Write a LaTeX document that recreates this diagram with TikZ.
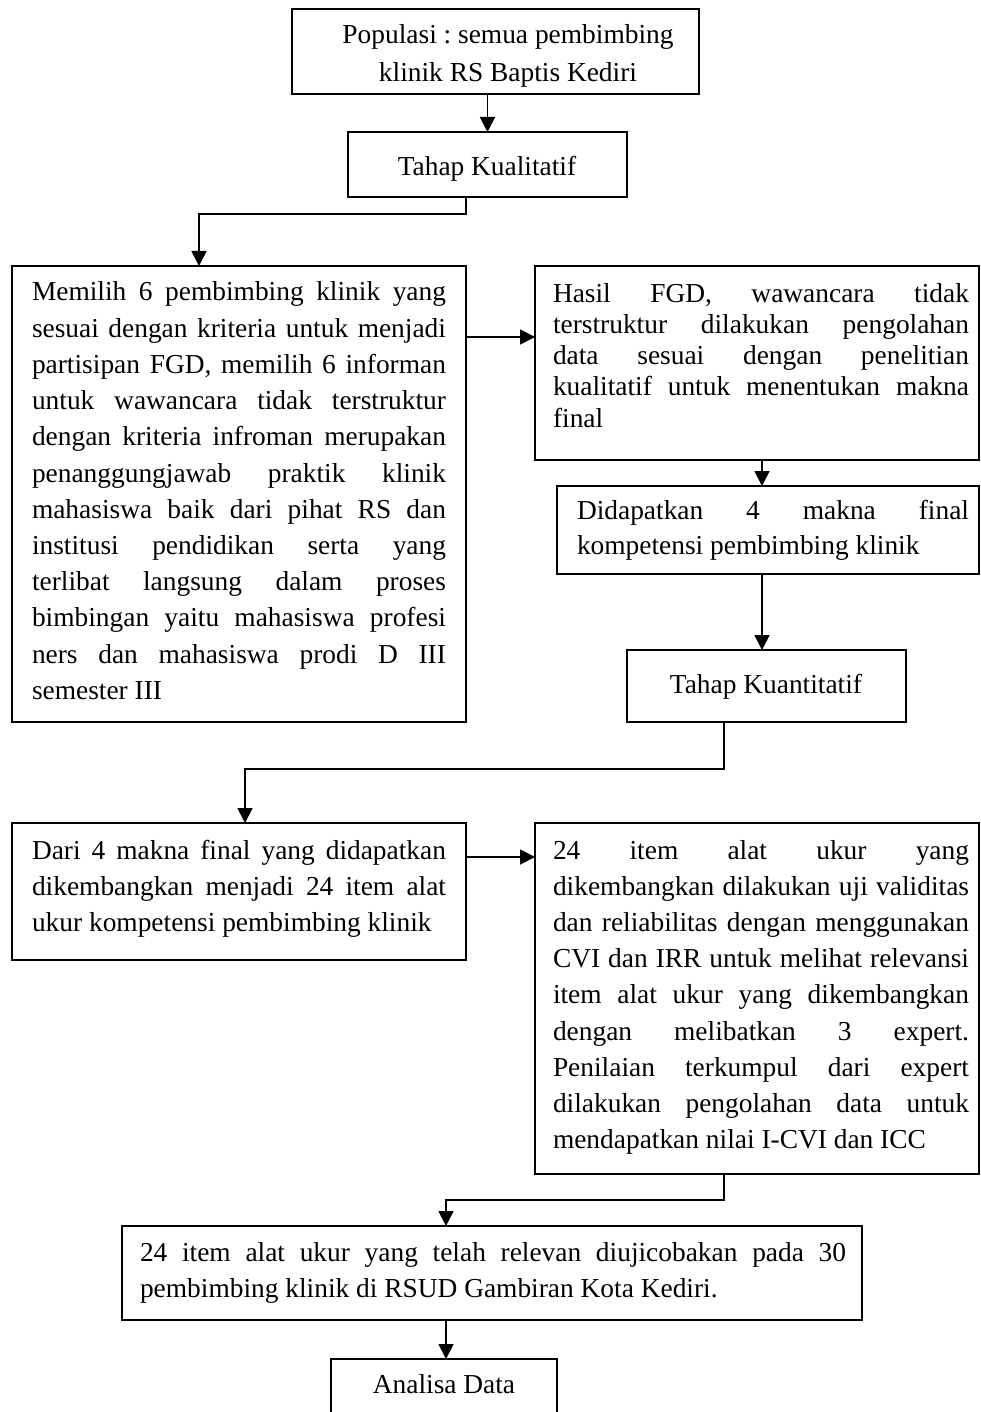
\documentclass[tikz,border=0pt]{standalone}
\usepackage{fontspec}
\setmainfont{Liberation Serif}
\usetikzlibrary{arrows.meta}
\frenchspacing
\newcommand\Jl[1]{\hbox to \linewidth{#1}}
\newcommand\Ll[1]{\hbox{#1}}
\newcommand\Cl[1]{\hbox to \linewidth{\hfil#1\hfil}}
\newcommand\tbox[3]{\parbox[t]{#1}{\frenchspacing\fontsize{27.4}{#2}\selectfont #3}}
\begin{document}
\begin{tikzpicture}[x=1pt,y=-1pt,
  box/.style={draw, line width=1.8pt, inner sep=0pt, outer sep=0pt, anchor=north west},
  txt/.style={inner sep=0pt, outer sep=0pt},
  arr/.style={line width=1.8pt, -{Triangle[length=15pt,width=15pt]}}]
\useasboundingbox (0,0) rectangle (980,1412);
\clip (0,0) rectangle (980,1412);
\fill[white] (0,0) rectangle (980,1412);

% boxes
\node[box, minimum width=407pt, minimum height=85pt] (pop) at (292,9) {};
\node[box, minimum width=279pt, minimum height=65pt] (kual) at (348,132) {};
\node[box, minimum width=454pt, minimum height=456pt] (b3) at (12,266) {};
\node[box, minimum width=444pt, minimum height=194pt] (hasil) at (535,266) {};
\node[box, minimum width=422pt, minimum height=88pt] (did) at (557,486) {};
\node[box, minimum width=279pt, minimum height=72pt] (tk) at (627,650) {};
\node[box, minimum width=454pt, minimum height=137pt] (b4) at (12,823) {};
\node[box, minimum width=444pt, minimum height=351pt] (b5) at (535,823) {};
\node[box, minimum width=740pt, minimum height=94pt] (b6) at (122,1226) {};
\node[box, minimum width=226pt, minimum height=90pt] (ana) at (331,1359) {};

% texts
\node[txt, anchor=base] (popt) at (508,44) {\tbox{400pt}{38pt}{\Cl{Populasi : semua pembimbing}\Cl{klinik RS Baptis Kediri}}};
\node[txt, anchor=base] (kualt) at (487,176) {\tbox{270pt}{36pt}{\Cl{Tahap Kualitatif}}};
\node[txt, anchor=base west] (b3t) at (32,301) {\tbox{414pt}{36.2pt}{%
\Jl{Memilih 6 pembimbing klinik yang}
\Jl{sesuai dengan kriteria untuk menjadi}
\Jl{partisipan FGD, memilih 6 informan}
\Jl{untuk wawancara tidak terstruktur}
\Jl{dengan kriteria infroman merupakan}
\Jl{penanggungjawab praktik klinik}
\Jl{mahasiswa baik dari pihat RS dan}
\Jl{institusi pendidikan serta yang}
\Jl{terlibat langsung dalam proses}
\Jl{bimbingan yaitu mahasiswa profesi}
\Jl{ners dan mahasiswa prodi D III}
\Ll{semester III}}};
\node[txt, anchor=base west] (hasilt) at (553,302) {\tbox{416pt}{31.3pt}{%
\Jl{Hasil FGD, wawancara tidak}
\Jl{terstruktur dilakukan pengolahan}
\Jl{data sesuai dengan penelitian}
\Jl{kualitatif untuk menentukan makna}
\Ll{final}}};
\node[txt, anchor=base west] (didt) at (577,519) {\tbox{392pt}{35pt}{%
\Jl{Didapatkan 4 makna final}
\Ll{kompetensi pembimbing klinik}}};
\node[txt, anchor=base] (tkt) at (766,693) {\tbox{270pt}{36pt}{\Cl{Tahap Kuantitatif}}};
\node[txt, anchor=base west] (b4t) at (32,859) {\tbox{414pt}{36pt}{%
\Jl{Dari 4 makna final yang didapatkan}
\Jl{dikembangkan menjadi 24 item alat}
\Ll{ukur kompetensi pembimbing klinik}}};
\node[txt, anchor=base west] (b5t) at (553,859) {\tbox{416pt}{36.2pt}{%
\Jl{24 item alat ukur yang}
\Jl{dikembangkan dilakukan uji validitas}
\Jl{dan reliabilitas dengan menggunakan}
\Jl{CVI dan IRR untuk melihat relevansi}
\Jl{item alat ukur yang dikembangkan}
\Jl{dengan melibatkan 3 expert.}
\Jl{Penilaian terkumpul dari expert}
\Jl{dilakukan pengolahan data untuk}
\Ll{mendapatkan nilai I-CVI dan ICC}}};
\node[txt, anchor=base west] (b6t) at (140,1261) {\tbox{706pt}{36pt}{%
\Jl{24 item alat ukur yang telah relevan diujicobakan pada 30}
\Ll{pembimbing klinik di RSUD Gambiran Kota Kediri.}}};
\node[txt, anchor=base] (anat) at (444,1393) {\tbox{220pt}{36pt}{\Cl{Analisa Data}}};

% helper coordinates
\coordinate (k1) at (199,214);
\coordinate (h1) at (0,337);
\coordinate (x1) at (762,0);
\coordinate (t1) at (724,0);
\coordinate (k2) at (245,769);
\coordinate (h2) at (0,857);
\coordinate (k3) at (446,1200);

% connectors
\draw[arr] (pop.south -| kual.north) -- (kual.north);
\draw[arr] (kual.south -| b3.east) |- (k1) -- (k1 |- b3.north);
\draw[arr] (b3.east |- h1) -- (hasil.west |- h1);
\draw[arr] (hasil.south -| x1) -- (did.north -| x1);
\draw[arr] (did.south -| x1) -- (tk.north -| x1);
\draw[arr] (tk.south -| t1) |- (k2) -- (k2 |- b4.north);
\draw[arr] (b4.east |- h2) -- (b5.west |- h2);
\draw[arr] (b5.south -| t1) |- (k3) -- (k3 |- b6.north);
\draw[arr] (b6.south -| k3) -- (ana.north -| k3);
\end{tikzpicture}
\end{document}
